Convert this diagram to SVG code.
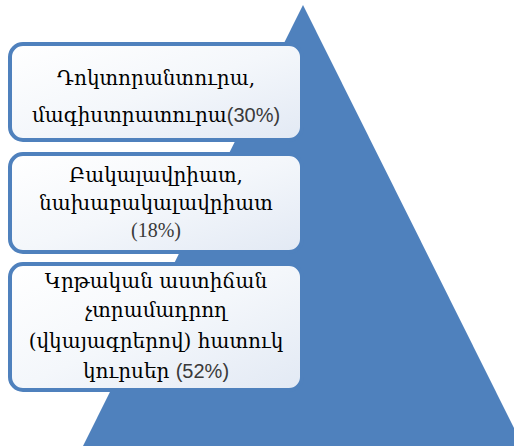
<svg xmlns="http://www.w3.org/2000/svg" width="514" height="447" viewBox="0 0 514 447">
<defs>
<linearGradient id="boxFill" x1="0" y1="0" x2="1" y2="1">
<stop offset="0" stop-color="#ffffff"/>
<stop offset="0.5" stop-color="#f4f7fb"/>
<stop offset="1" stop-color="#e2e9f4"/>
</linearGradient>
</defs>
<style>
.box{fill:url(#boxFill);stroke:#4f81bd;stroke-width:4}
.t{font-family:"DejaVu Serif","Noto Sans",serif;font-size:20px;fill:#000;text-anchor:middle}
.p{font-family:"Liberation Sans",sans-serif;fill:#3a3a3a}
.ps{font-family:"Liberation Serif",serif;fill:#3a3a3a}
</style>
<rect width="514" height="447" fill="#ffffff"/>
<g id="pyramid">
<polygon points="303,5 83,446 523,446" fill="#4f81bd"/>
</g>
<g id="connectors"></g>
<g id="node1">
<rect class="box" x="10" y="44" width="292" height="96" rx="13"/>
<text class="t" x="156" y="85">Դոկտորանտուրա,</text>
<text class="t" x="156" y="122">մագիստրատուրա<tspan class="p">(30%)</tspan></text>
</g>
<g id="node2">
<rect class="box" x="10" y="154" width="292" height="98" rx="13"/>
<text class="t" x="156" y="182">Բակալավրիատ,</text>
<text class="t" x="156" y="210">նախաբակալավրիատ</text>
<text class="t" x="156" y="237"><tspan class="ps">(18%)</tspan></text>
</g>
<g id="node3">
<rect class="box" x="10" y="264" width="292" height="126" rx="13"/>
<text class="t" x="156" y="288">Կրթական աստիճան</text>
<text class="t" x="156" y="317">չտրամադրող</text>
<text class="t" x="156" y="348">(վկայագրերով) հատուկ</text>
<text class="t" x="156" y="378">կուրսեր <tspan class="p">(52%)</tspan></text>
</g>
</svg>
